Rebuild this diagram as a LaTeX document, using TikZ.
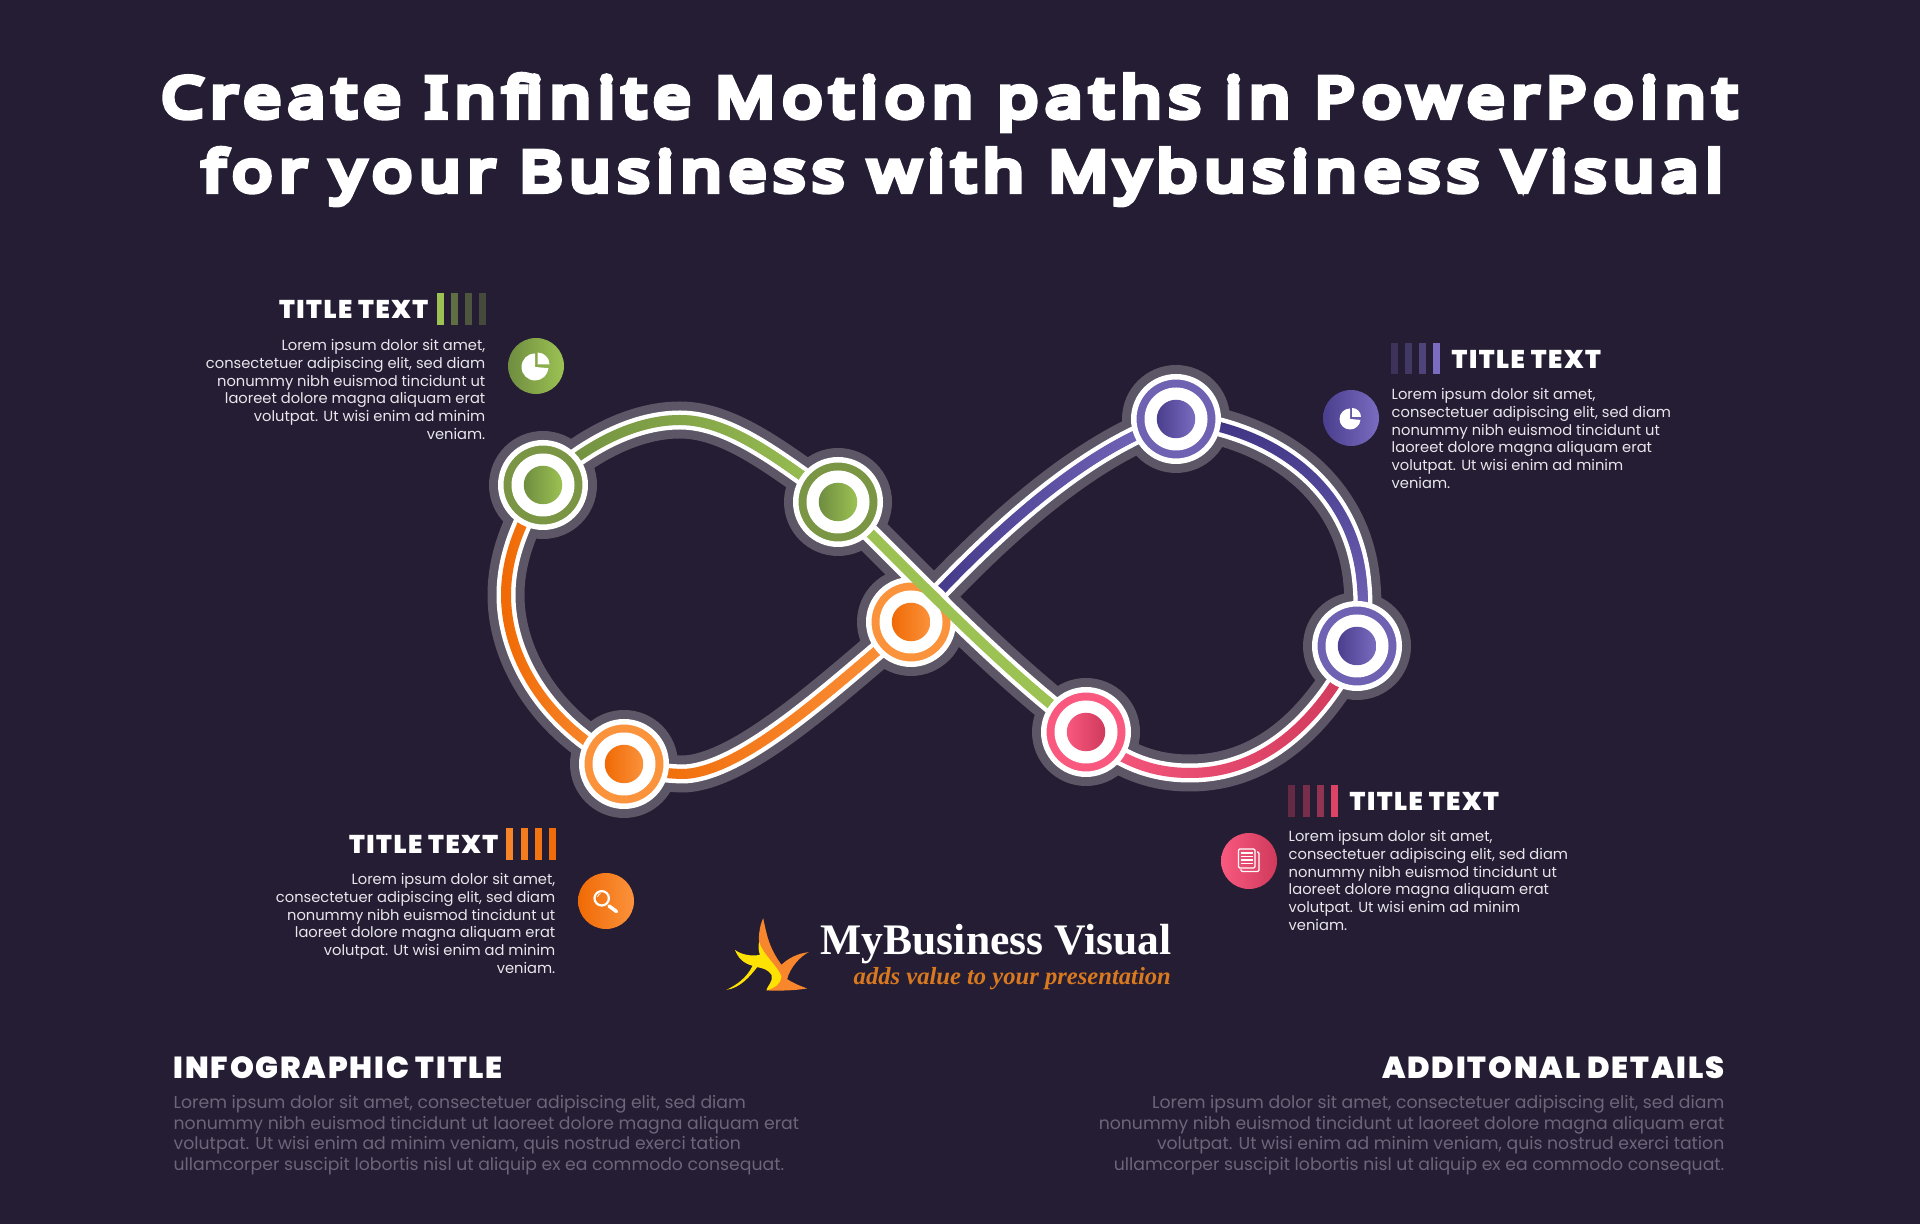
\documentclass[tikz,border=0pt]{standalone}
\usepackage{fontspec}
\usepackage{xcolor}
\usetikzlibrary{fadings}
\newfontfamily\bodyfont{Poppins}
\newfontfamily\headfont[LetterSpace=6]{Poppins Black}
\newfontfamily\bigfont[LetterSpace=12.5, FakeStretch=1.2]{Noto Sans}
\newfontfamily\brandfont{Liberation Serif}
\definecolor{bgdark}{HTML}{251D33}
\definecolor{halogrey}{HTML}{5C5666}
\definecolor{paletext}{HTML}{E8E6EC}
\definecolor{dimtext}{HTML}{6D6579}
\definecolor{greenA}{HTML}{6F8D40}
\definecolor{greenB}{HTML}{9CC253}
\definecolor{greenR}{HTML}{7A9645}
\definecolor{orangeA}{HTML}{F06A05}
\definecolor{orangeB}{HTML}{FB923C}
\definecolor{purpleA}{HTML}{4A3E8E}
\definecolor{purpleB}{HTML}{7A6CC0}
\definecolor{purpleD}{HTML}{3F3484}
\definecolor{purpleR}{HTML}{6F62B2}
\definecolor{pinkA}{HTML}{CF3A5B}
\definecolor{pinkB}{HTML}{F9597F}
\definecolor{tagorange}{HTML}{D9791F}
\tikzset{
    halodisc/.style={circle, fill=halogrey, minimum size=1.08cm, inner sep=0},
    haloline/.style={draw=halogrey, line width=.37cm},
    whiteline/.style={draw=white, line width=.19cm},
    colorline/.style={line width=.10cm},
    ringdisc/.style={circle, draw=white, line width=.055cm, minimum size=.845cm, inner sep=0},
    holedisc/.style={circle, fill=white, minimum size=.63cm, inner sep=0},
    dotdisc/.style={circle, minimum size=.385cm, inner sep=0},
    icondisc/.style={circle, minimum size=.56cm, inner sep=0},
    titletext/.style={font=\headfont\fontsize{7.3}{8}\selectfont, text=white, inner sep=0},
    bodytext/.style={font=\bodyfont\fontsize{4.18}{5.03}\selectfont, text=paletext, inner sep=0},
    infohead/.style={font=\headfont\fontsize{8.65}{9}\selectfont, text=white, inner sep=0},
    infotext/.style={font=\bodyfont\fontsize{4.91}{5.89}\selectfont, text=dimtext, inner sep=0},
}
\newcommand{\gradline}[4]{\draw[colorline, #1] #4; \draw[colorline, #2, path fading=#3] #4;}
\newcommand{\glowtext}[1]{\special{pdf:literal 2 Tr 1.7 w 1 1 1 RG}#1\special{pdf:literal 0 Tr}}
\begin{document}
\begin{tikzpicture}
    \fill[bgdark] (0,0) rectangle (19.2,12.24);
    \useasboundingbox (0,0) rectangle (19.2,12.24);

    \node (gone) at (5.43, 7.39) [halodisc] {};
    \node (gtwo) at (8.38, 7.22) [halodisc] {};
    \node (oone) at (9.11, 6.02) [halodisc] {};
    \node (otwo) at (6.24, 4.60) [halodisc] {};
    \node (pone) at (11.76, 8.05) [halodisc] {};
    \node (ptwo) at (13.57, 5.78) [halodisc] {};
    \node (rone) at (10.86, 4.92) [halodisc] {};

    \foreach \st in {haloline, whiteline} {
        \path[\st] (gone.center) .. controls (5.22, 7.04) and (5.06, 6.69) .. (5.06, 6.29) .. controls (5.06, 5.64) and (5.50, 4.96) .. (otwo.center);
        \path[\st] (otwo.center) .. controls (6.40, 4.54) and (6.65, 4.50) .. (6.85, 4.50) .. controls (7.45, 4.54) and (8.30, 5.34) .. (oone.center);
        \path[\st] (oone.center) .. controls (10.10, 7.10) and (10.95, 7.79) .. (pone.center);
        \path[\st] (pone.center) .. controls (12.80, 7.94) and (13.50, 7.34) .. (13.61, 6.49) .. controls (13.64, 6.24) and (13.64, 6.04) .. (ptwo.center);
        \path[\st] (ptwo.center) .. controls (13.20, 5.04) and (12.65, 4.51) .. (11.90, 4.51) .. controls (11.50, 4.51) and (11.20, 4.64) .. (rone.center);
        \path[\st] (rone.center) .. controls (9.90, 5.64) and (9.00, 6.64) .. (gtwo.center);
        \path[\st] (gtwo.center) .. controls (7.80, 7.64) and (7.30, 8.04) .. (6.80, 8.04) .. controls (6.30, 8.04) and (5.80, 7.74) .. (gone.center);
    }

    \gradline{orangeA}{orangeB}{west}{(gone.center) .. controls (5.22, 7.04) and (5.06, 6.69) .. (5.06, 6.29) .. controls (5.06, 5.64) and (5.50, 4.96) .. (otwo.center)}
    \gradline{orangeA}{orangeB}{west}{(otwo.center) .. controls (6.40, 4.54) and (6.65, 4.50) .. (6.85, 4.50) .. controls (7.45, 4.54) and (8.30, 5.34) .. (oone.center)}
    \gradline{purpleD}{purpleB}{west}{(oone.center) .. controls (10.10, 7.10) and (10.95, 7.79) .. (pone.center)}
    \gradline{purpleD}{purpleB}{north}{(pone.center) .. controls (12.80, 7.94) and (13.50, 7.34) .. (13.61, 6.49) .. controls (13.64, 6.24) and (13.64, 6.04) .. (ptwo.center)}
    \gradline{pinkB}{pinkA}{west}{(rone.center) .. controls (11.20, 4.64) and (11.50, 4.51) .. (11.90, 4.51) .. controls (12.65, 4.51) and (13.20, 5.04) .. (ptwo.center)}

    \foreach \nd/\ca/\cb/\cr in {oone/orangeA/orangeB/orangeB, otwo/orangeA/orangeB/orangeB, pone/purpleA/purpleB/purpleR, ptwo/purpleA/purpleB/purpleR} {
        \node (\nd ring) at (\nd) [ringdisc, fill=\cr] {};
        \node (\nd hole) at (\nd) [holedisc] {};
        \node (\nd dot) at (\nd) [dotdisc, left color=\ca, right color=\cb] {};
    }

    \gradline{greenB}{greenB}{west}{(rone.center) .. controls (9.90, 5.64) and (9.00, 6.64) .. (gtwo.center)}
    \gradline{greenA}{greenB}{west}{(gtwo.center) .. controls (7.80, 7.64) and (7.30, 8.04) .. (6.80, 8.04) .. controls (6.30, 8.04) and (5.80, 7.74) .. (gone.center)}

    \foreach \nd/\ca/\cb/\cr in {gone/greenA/greenB/greenR, gtwo/greenA/greenB/greenR, rone/pinkB/pinkA/pinkB} {
        \node (\nd ring) at (\nd) [ringdisc, fill=\cr] {};
        \node (\nd hole) at (\nd) [holedisc] {};
        \node (\nd dot) at (\nd) [dotdisc, left color=\ca, right color=\cb] {};
    }

    \node (headline) at (9.49, 11.50) [anchor=north, align=center, inner sep=0, text=white, font=\bigfont\bfseries\fontsize{15.8}{21.05}\selectfont] {\glowtext{Create Infinite Motion paths in PowerPoint}\\\hspace*{.27cm}\glowtext{for your Business with Mybusiness Visual}};

    % green block
    \node (gtitle) at (4.29, 9.05) [titletext, anchor=base east] {TITLE TEXT};
    \foreach \bx/\op in {4.37/1, 4.51/.5, 4.65/.35, 4.79/.28}
        \fill[greenB, opacity=\op] (\bx, 8.99) rectangle ++(.065, .32);
    \node (gbody) at (4.86, 8.85) [bodytext, anchor=north east, align=right] {Lorem ipsum dolor sit amet,\\consectetuer adipiscing elit, sed diam\\nonummy nibh euismod tincidunt ut\\laoreet dolore magna aliquam erat\\volutpat. Ut wisi enim ad minim\\veniam.};
    \node (gicon) at (5.36, 8.58) [icondisc, left color=greenA, right color=greenB] {};
    \fill[white] (gicon.center) ++(-.01, -.01) -- ++(0, .135) arc[start angle=90, delta angle=265, radius=.135] -- cycle;
    \fill[white] (gicon.center) ++(.015, .015) -- ++(0, .12) arc[start angle=90, delta angle=-90, radius=.12] -- cycle;

    % purple block
    \node (ptitle) at (14.51, 8.55) [titletext, anchor=base west] {TITLE TEXT};
    \foreach \bx/\op in {13.91/.28, 14.05/.35, 14.19/.5, 14.33/1}
        \fill[purpleB, opacity=\op] (\bx, 8.50) rectangle ++(.065, .31);
    \node (pbody) at (13.91, 8.36) [bodytext, anchor=north west, align=left] {Lorem ipsum dolor sit amet,\\consectetuer adipiscing elit, sed diam\\nonummy nibh euismod tincidunt ut\\laoreet dolore magna aliquam erat\\volutpat. Ut wisi enim ad minim\\veniam.};
    \node (picon) at (13.51, 8.06) [icondisc, left color=purpleA, right color=purpleB] {};
    \fill[white] (picon.center) ++(-.01, -.01) -- ++(0, .105) arc[start angle=90, delta angle=265, radius=.105] -- cycle;
    \fill[white] (picon.center) ++(.01, .01) -- ++(0, .09) arc[start angle=90, delta angle=-90, radius=.09] -- cycle;

    % pink block
    \node (rtitle) at (13.49, 4.13) [titletext, anchor=base west] {TITLE TEXT};
    \foreach \bx/\op in {12.88/.35, 13.025/.45, 13.17/.6, 13.31/1}
        \fill[pinkA!70!pinkB, opacity=\op] (\bx, 4.07) rectangle ++(.07, .32);
    \node (rbody) at (12.88, 3.94) [bodytext, anchor=north west, align=left] {Lorem ipsum dolor sit amet,\\consectetuer adipiscing elit, sed diam\\nonummy nibh euismod tincidunt ut\\laoreet dolore magna aliquam erat\\volutpat. Ut wisi enim ad minim\\veniam.};
    \node (ricon) at (12.49, 3.63) [icondisc, left color=pinkB, right color=pinkA] {};
    \draw[white, line width=.012cm, rounded corners=.012cm] (12.385, 3.56) rectangle (12.55, 3.75);
    \draw[white, line width=.012cm, rounded corners=.012cm] (12.57, 3.72) -- (12.59, 3.72) -- (12.59, 3.525) -- (12.41, 3.525) -- (12.41, 3.545);
    \foreach \ly in {3.71, 3.675, 3.64, 3.605}
        \draw[white, line width=.014cm] (12.405, \ly) -- (12.53, \ly);

    % orange block
    \node (otitle) at (4.99, 3.70) [titletext, anchor=base east] {TITLE TEXT};
    \foreach \bx/\cl in {5.06/65, 5.205/45, 5.35/25, 5.49/5}
        \fill[orangeB!\cl!orangeA] (\bx, 3.64) rectangle ++(.07, .32);
    \node (obody) at (5.56, 3.51) [bodytext, anchor=north east, align=right] {Lorem ipsum dolor sit amet,\\consectetuer adipiscing elit, sed diam\\nonummy nibh euismod tincidunt ut\\laoreet dolore magna aliquam erat\\volutpat. Ut wisi enim ad minim\\veniam.};
    \node (oicon) at (6.06, 3.23) [icondisc, left color=orangeA, right color=orangeB] {};
    \draw[white, line width=.022cm] (6.017, 3.257) circle (.072);
    \draw[white, line width=.035cm, line cap=round] (6.09, 3.18) -- (6.165, 3.125);
    \draw[white, line width=.008cm] (5.975, 3.27) arc[start angle=170, end angle=110, radius=.045];

    % logo
    \begin{scope}[shift={(7, 3.34)}, x=.00333cm, y=-.00333cm]
        \fill[orangeB!70!orangeA] (190,85) .. controls (200,130) and (205,170) .. (245,225) .. controls (265,205) and (295,190) .. (327,187) .. controls (300,200) and (270,235) .. (262,268) .. controls (280,280) and (305,290) .. (322,296) .. controls (280,303) and (240,303) .. (200,302) .. controls (200,290) and (225,280) .. (235,260) .. controls (215,225) and (170,190) .. (178,130) .. controls (180,110) and (185,95) .. (190,85) -- cycle;
        \fill[yellow!85!orange] (178,155) .. controls (185,190) and (235,230) .. (245,260) .. controls (245,280) and (225,295) .. (200,302) .. controls (200,290) and (222,275) .. (215,255) .. controls (205,240) and (190,235) .. (172,232) .. controls (150,260) and (120,295) .. (80,300) .. controls (110,285) and (140,265) .. (158,228) .. controls (130,220) and (115,205) .. (105,180) .. controls (125,195) and (155,200) .. (180,195) .. controls (175,180) and (175,165) .. (178,155) -- cycle;
    \end{scope}
    \node (brand) at (8.20, 2.69) [anchor=base west, inner sep=0, text=white, font=\brandfont\bfseries\fontsize{12.4}{14}\selectfont] {MyBusiness Visual};
    \node (tagline) at (8.53, 2.39) [anchor=base west, inner sep=0, text=tagorange, font=\brandfont\bfseries\itshape\fontsize{7}{8}\selectfont] {adds value to your presentation};

    % bottom texts
    \node (infotitle) at (1.73, 1.46) [infohead, anchor=base west] {INFOGRAPHIC TITLE};
    \node (infobody) at (1.73, 1.295) [infotext, anchor=north west, align=left] {Lorem ipsum dolor sit amet, consectetuer adipiscing elit, sed diam\\nonummy nibh euismod tincidunt ut laoreet dolore magna aliquam erat\\volutpat. Ut wisi enim ad minim veniam, quis nostrud exerci tation\\ullamcorper suscipit lobortis nisl ut aliquip ex ea commodo consequat.};
    \node (moretitle) at (17.25, 1.46) [infohead, anchor=base east] {ADDITONAL DETAILS};
    \node (morebody) at (17.25, 1.295) [infotext, anchor=north east, align=right] {Lorem ipsum dolor sit amet, consectetuer adipiscing elit, sed diam\\nonummy nibh euismod tincidunt ut laoreet dolore magna aliquam erat\\volutpat. Ut wisi enim ad minim veniam, quis nostrud exerci tation\\ullamcorper suscipit lobortis nisl ut aliquip ex ea commodo consequat.};
\end{tikzpicture}
\end{document}
